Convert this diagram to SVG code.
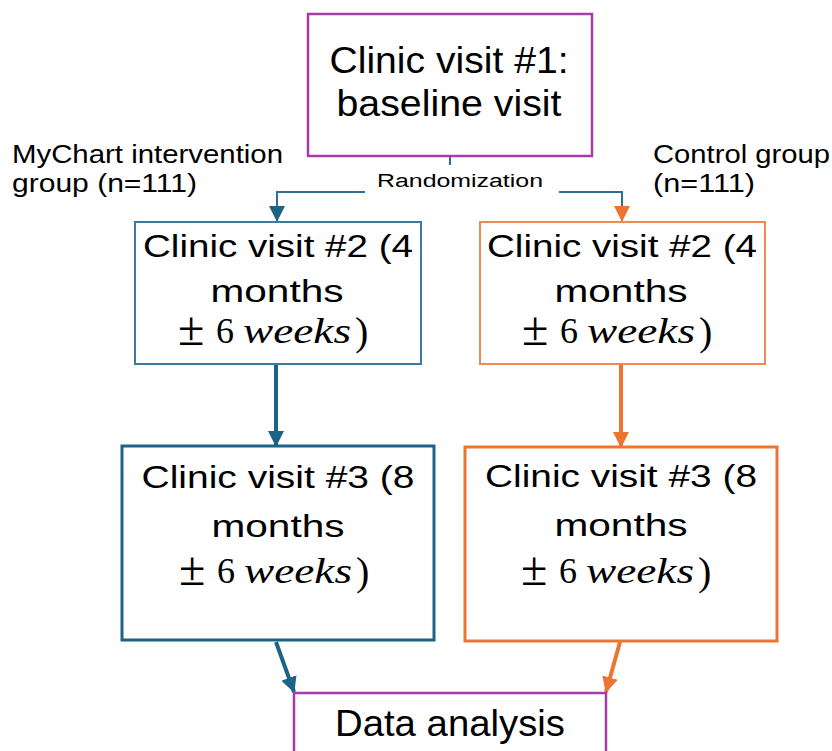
<svg xmlns="http://www.w3.org/2000/svg" width="832" height="751" viewBox="0 0 832 751">
<style>
.t{font-family:"Liberation Sans","Noto Sans",Arial,sans-serif;fill:#000;text-anchor:middle}
.big{font-size:36px}
.mid{font-size:31px}
.lab{font-size:25px;text-anchor:start}
.m{font-family:"Liberation Serif","DejaVu Serif",serif;font-size:36px;fill:#000}
.pm{font-size:48px}
.par{font-size:40px}
.it{font-style:italic}
.purple{fill:#fff;stroke:#a43da6;stroke-width:2.5}
.blue2{fill:#fff;stroke:#3a7ca1;stroke-width:2}
.blue3{fill:#fff;stroke:#1d6385;stroke-width:3}
.or2{fill:#fff;stroke:#f08a52;stroke-width:2}
.or3{fill:#fff;stroke:#ed7532;stroke-width:3}
</style>
<defs>
<marker id="hb" markerUnits="userSpaceOnUse" markerWidth="16" markerHeight="16" viewBox="0 0 16 16" refX="15" refY="8" orient="auto"><path d="M0,0 L16,8 L0,16 z" fill="#1d6385"/></marker>
<marker id="ho" markerUnits="userSpaceOnUse" markerWidth="16" markerHeight="16" viewBox="0 0 16 16" refX="15" refY="8" orient="auto"><path d="M0,0 L16,8 L0,16 z" fill="#ed7532"/></marker>
</defs>
<rect width="832" height="751" fill="#fff"/>
<g id="connectors" fill="none">
<path d="M450,156 V165" stroke="#2d6f92" stroke-width="2"/>
<path d="M365,192 H277 V221" stroke="#2d6f92" stroke-width="2" marker-end="url(#hb)"/>
<path d="M559,192 H622 V221" stroke="#2d6f92" stroke-width="2" marker-end="url(#ho)"/>
<path d="M276,364 V446" stroke="#1d6385" stroke-width="4" marker-end="url(#hb)"/>
<path d="M621,364 V447" stroke="#ed7532" stroke-width="4" marker-end="url(#ho)"/>
<path d="M276,642 L294,692" stroke="#1d6385" stroke-width="4" marker-end="url(#hb)"/>
<path d="M620,642 L606,692" stroke="#ed7532" stroke-width="4" marker-end="url(#ho)"/>
</g>
<g id="randomization-label">
<text class="t" x="460" y="187" font-size="18" textLength="166" lengthAdjust="spacingAndGlyphs">Randomization</text>
</g>
<g id="visit1">
<rect class="purple" x="308" y="14" width="284" height="142"/>
<text class="t big" x="449" y="73" textLength="239" lengthAdjust="spacingAndGlyphs">Clinic visit #1:</text>
<text class="t big" x="449" y="116" textLength="225" lengthAdjust="spacingAndGlyphs">baseline visit</text>
</g>
<g id="label-intervention">
<text class="t lab" x="12" y="163" textLength="271" lengthAdjust="spacingAndGlyphs">MyChart intervention</text>
<text class="t lab" x="12" y="192" textLength="185" lengthAdjust="spacingAndGlyphs">group (n=111)</text>
</g>
<g id="label-control">
<text class="t lab" x="653" y="163" textLength="177" lengthAdjust="spacingAndGlyphs">Control group</text>
<text class="t lab" x="653" y="192" textLength="102" lengthAdjust="spacingAndGlyphs">(n=111)</text>
</g>
<g id="visit2-intervention">
<rect class="blue2" x="135" y="222" width="286" height="142"/>
<text class="t mid" x="278" y="257" textLength="270" lengthAdjust="spacingAndGlyphs">Clinic visit #2 (4</text>
<text class="t mid" x="277" y="302" textLength="133" lengthAdjust="spacingAndGlyphs">months</text>
<text class="m pm" x="178" y="345">±</text>
<text class="m" x="216" y="343">6</text>
<text class="m it" x="243" y="343" textLength="108" lengthAdjust="spacingAndGlyphs">weeks</text>
<text class="m par" x="355" y="345">)</text>
</g>
<g id="visit2-control">
<rect class="or2" x="480" y="222" width="285" height="142"/>
<text class="t mid" x="622" y="257" textLength="270" lengthAdjust="spacingAndGlyphs">Clinic visit #2 (4</text>
<text class="t mid" x="621" y="302" textLength="133" lengthAdjust="spacingAndGlyphs">months</text>
<text class="m pm" x="522" y="345">±</text>
<text class="m" x="560" y="343">6</text>
<text class="m it" x="587" y="343" textLength="108" lengthAdjust="spacingAndGlyphs">weeks</text>
<text class="m par" x="699" y="345">)</text>
</g>
<g id="visit3-intervention">
<rect class="blue3" x="122" y="446" width="312" height="194"/>
<text class="t mid" x="278" y="488" textLength="273" lengthAdjust="spacingAndGlyphs">Clinic visit #3 (8</text>
<text class="t mid" x="278" y="537" textLength="133" lengthAdjust="spacingAndGlyphs">months</text>
<text class="m pm" x="179" y="585">±</text>
<text class="m" x="217" y="583">6</text>
<text class="m it" x="244" y="583" textLength="108" lengthAdjust="spacingAndGlyphs">weeks</text>
<text class="m par" x="356" y="585">)</text>
</g>
<g id="visit3-control">
<rect class="or3" x="465" y="447" width="312" height="194"/>
<text class="t mid" x="621" y="487" textLength="272" lengthAdjust="spacingAndGlyphs">Clinic visit #3 (8</text>
<text class="t mid" x="621" y="536" textLength="133" lengthAdjust="spacingAndGlyphs">months</text>
<text class="m pm" x="521" y="585">±</text>
<text class="m" x="559" y="583">6</text>
<text class="m it" x="586" y="583" textLength="108" lengthAdjust="spacingAndGlyphs">weeks</text>
<text class="m par" x="698" y="585">)</text>
</g>
<g id="data-analysis">
<rect class="purple" x="294" y="693" width="312" height="90"/>
<text class="t" x="450" y="736" font-size="37" textLength="230" lengthAdjust="spacingAndGlyphs">Data analysis</text>
</g>
</svg>
